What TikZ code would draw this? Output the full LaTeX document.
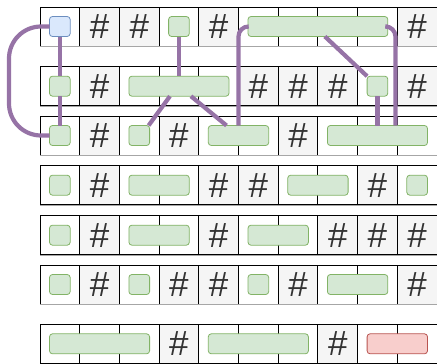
\documentclass[tikz,border=0pt]{standalone}
\usepackage{fontspec}
\setmainfont{Liberation Sans}

\definecolor{hashfill}{HTML}{F5F5F5}
\definecolor{gfill}{HTML}{D5E8D4}
\definecolor{gline}{HTML}{82B366}
\definecolor{bfill}{HTML}{DAE8FC}
\definecolor{bline}{HTML}{6C8EBF}
\definecolor{rfill}{HTML}{F8CECC}
\definecolor{rline}{HTML}{B85450}
\definecolor{link}{HTML}{9673A6}
\definecolor{hashtext}{HTML}{333333}

\tikzset{
  cellbox/.style={draw=black, line width=1pt, fill=white, inner sep=0pt, outer sep=0pt,
                  minimum width=39.7pt, minimum height=39pt},
  hashcell/.style={cellbox, fill=hashfill, text=hashtext, font=\fontsize{35}{35}\selectfont},
  rowshade/.style={draw=black!35, line width=1.2pt},
  blockbase/.style={rounded corners=3pt, line width=0.8pt, inner sep=0pt, outer sep=0pt,
                    minimum height=20pt},
  greenblk/.style={blockbase, fill=gfill, draw=gline},
  blueblk/.style={blockbase, fill=bfill, draw=bline},
  redblk/.style={blockbase, fill=rfill, draw=rline},
  conn/.style={draw=link, line width=4.2pt},
}

% one row of ten cells: #1 tag, #2 top edge, #3 columns holding a hash mark
\newcommand\gridrow[3]{%
  \foreach \c in {1,...,10}
    \node[cellbox] (#1k\c) at ({40+(\c-0.5)*39.7},{#2+19.5}) {};
  \foreach \c in {#3}
    \node[hashcell] (#1h\c) at ({40+(\c-0.5)*39.7},{#2+19.5}) {\#};
  \draw[rowshade] (40,{#2+39.8}) -- (437,{#2+39.8});
}

% a block spanning columns #3..#4 of the row whose top edge is #2
\newcommand\blk[5]{%
  \node[#5, minimum width={((#4-#3+1)*39.7-19)*1pt}]
    (#1) at ({40+(#3+#4-1)*19.85},{#2+19.5}) {};
}

\begin{document}
\begin{tikzpicture}[x=1pt, y=-1pt]
\useasboundingbox (0,0) rectangle (437,364);

\gridrow{ra}{7}{2,3,5,10}
\gridrow{rb}{66.7}{2,6,7,8,10}
\gridrow{rc}{116}{2,4,7}
\gridrow{rd}{165.7}{2,5,6,9}
\gridrow{re}{215.7}{2,5,8,9,10}
\gridrow{rf}{265}{2,4,5,7,10}
\gridrow{rg}{324.3}{4,8}

% blocks
\blk{n1a}{7}{1}{1}{blueblk}
\blk{n1b}{7}{4}{4}{greenblk}
\blk{n1c}{7}{6}{9}{greenblk}

\blk{n2a}{66.7}{1}{1}{greenblk}
\blk{n2b}{66.7}{3}{5}{greenblk}
\blk{n2c}{66.7}{9}{9}{greenblk}

\blk{n3a}{116}{1}{1}{greenblk}
\blk{n3b}{116}{3}{3}{greenblk}
\blk{n3c}{116}{5}{6}{greenblk}
\blk{n3d}{116}{8}{10}{greenblk}

\blk{n4a}{165.7}{1}{1}{greenblk}
\blk{n4b}{165.7}{3}{4}{greenblk}
\blk{n4c}{165.7}{7}{8}{greenblk}
\blk{n4d}{165.7}{10}{10}{greenblk}

\blk{n5a}{215.7}{1}{1}{greenblk}
\blk{n5b}{215.7}{3}{4}{greenblk}
\blk{n5c}{215.7}{6}{7}{greenblk}

\blk{n6a}{265}{1}{1}{greenblk}
\blk{n6b}{265}{3}{3}{greenblk}
\blk{n6c}{265}{6}{6}{greenblk}
\blk{n6d}{265}{8}{9}{greenblk}

\blk{n7a}{324.3}{1}{3}{greenblk}
\blk{n7b}{324.3}{5}{7}{greenblk}
\blk{n7c}{324.3}{9}{10}{redblk}

% connectors
\coordinate (loopx) at (9,0);
\draw[conn, rounded corners=32pt] (n1a.west) -- (n1a.west -| loopx) -- (n3a.west -| loopx) -- (n3a.west);
\draw[conn] (n1a.south) -- (n2a.north);
\draw[conn] (n2a.south) -- (n3a.north);
\draw[conn] (n1b.south) -- (n2b.north);
\draw[conn] ([xshift=-9pt]n2b.south) -- ([xshift=-1pt]n3b.north east);
\draw[conn] ([xshift=12pt]n2b.south) -- ([xshift=-12pt]n3c.north);
\draw[conn, rounded corners=10pt] (n1c.west) -- (n1c.west -| n3c.north) -- (n3c.north);
\draw[conn] ([xshift=7pt]n1c.south) -- (n2c.north west);
\draw[conn] (n2c.south) -- (n3d.north);
\coordinate (rdrop) at ([xshift=18pt]n3d.north);
\draw[conn, rounded corners=10pt] (n1c.east) -- (n1c.east -| rdrop) -- (rdrop);
\end{tikzpicture}
\end{document}
